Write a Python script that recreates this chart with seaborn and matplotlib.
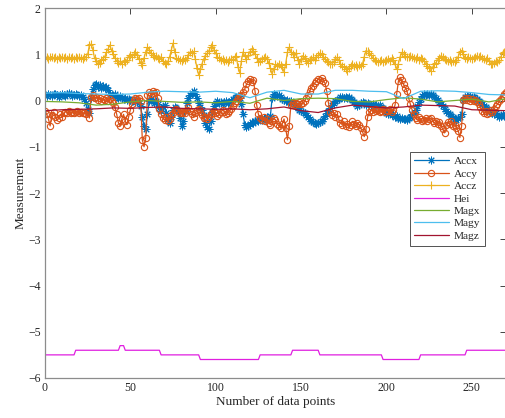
import numpy as np
import pandas as pd
import matplotlib
matplotlib.use("Agg")
import matplotlib.pyplot as plt
import seaborn as sns

# ---- accelerometer readings (one value per sample, samples 0..270) ----
accx = [
    0.12, 0.10, 0.14, 0.11, 0.09, 0.13, 0.15, 0.12, 0.08, 0.11,
    0.14, 0.12, 0.10, 0.13, 0.16, 0.13, 0.10, 0.12, 0.14, 0.11,
    0.09, 0.12, 0.08, 0.04, -0.05, -0.18, -0.27, 0.05, 0.25, 0.33,
    0.36, 0.30, 0.33, 0.28, 0.31, 0.26, 0.29, 0.22, 0.15, 0.12,
    0.10, 0.13, 0.08, 0.05, 0.09, 0.06, 0.03, 0.05, 0.02, 0.04,
    0.01, -0.02, 0.02, -0.03, -0.01, -0.05, -0.12, -0.35, -0.55, -0.62,
    -0.30, -0.02, 0.03, -0.01, -0.05, -0.02, -0.08, -0.16, -0.22, -0.14,
    -0.10, -0.26, -0.40, -0.48, -0.36, -0.20, -0.13, -0.17, -0.22, -0.38,
    -0.55, -0.44, -0.22, -0.06, 0.05, 0.12, 0.17, 0.20, 0.14, 0.06,
    -0.05, -0.15, -0.20, -0.32, -0.48, -0.58, -0.62, -0.45, -0.25, -0.12,
    -0.06, -0.02, -0.05, -0.03, -0.08, -0.04, -0.02, -0.06, -0.03, 0.00,
    0.03, 0.06, 0.08, 0.10, 0.05, -0.08, -0.30, -0.52, -0.58, -0.55,
    -0.50, -0.46, -0.48, -0.44, -0.42, -0.45, -0.40, -0.43, -0.38, -0.41,
    -0.36, -0.40, -0.34, 0.05, 0.15, 0.12, 0.09, 0.11, 0.07, 0.04,
    0.02, -0.01, 0.01, -0.03, -0.02, -0.05, -0.08, -0.12, -0.16, -0.20,
    -0.22, -0.24, -0.28, -0.32, -0.36, -0.40, -0.44, -0.46, -0.48, -0.50,
    -0.49, -0.47, -0.45, -0.40, -0.34, -0.28, -0.22, -0.16, -0.10, -0.05,
    -0.02, 0.02, 0.04, 0.07, 0.08, 0.06, 0.08, 0.05, 0.07, 0.04,
    0.02, -0.03, -0.08, -0.12, -0.10, -0.06, -0.03, -0.06, -0.09, -0.05,
    -0.08, -0.10, -0.07, -0.11, -0.09, -0.12, -0.10, -0.13, -0.16, -0.22,
    -0.26, -0.30, -0.28, -0.32, -0.30, -0.35, -0.33, -0.37, -0.40, -0.38,
    -0.41, -0.39, -0.42, -0.38, -0.35, -0.30, -0.26, -0.20, -0.12, -0.04,
    0.04, 0.10, 0.13, 0.11, 0.14, 0.12, 0.15, 0.11, 0.08, 0.05,
    0.02, -0.03, -0.08, -0.12, -0.18, -0.22, -0.26, -0.30, -0.33, -0.36,
    -0.40, -0.42, -0.38, -0.35, -0.30, 0.02, 0.08, 0.10, 0.07, 0.09,
    0.06, 0.08, 0.05, 0.03, 0.00, -0.04, -0.08, -0.12, -0.15, -0.18,
    -0.20, -0.24, -0.27, -0.30, -0.28, -0.32, -0.35, -0.33, -0.30, -0.34, -0.31,
]

accy = [
    -0.22, -0.30, -0.40, -0.55, -0.32, -0.25, -0.35, -0.42, -0.38, -0.30,
    -0.36, -0.28, -0.24, -0.27, -0.22, -0.26, -0.24, -0.28, -0.25, -0.22,
    -0.27, -0.24, -0.28, -0.26, -0.30, -0.25, -0.38, 0.08, 0.12, 0.05,
    0.08, 0.02, 0.06, 0.00, 0.04, 0.02, 0.06, -0.01, 0.03, 0.00,
    -0.05, -0.15, -0.30, -0.48, -0.55, -0.40, -0.30, -0.45, -0.52, -0.35,
    -0.20, -0.08, 0.02, 0.05, 0.03, 0.06, 0.00, -0.85, -1.00, -0.80,
    0.12, 0.18, 0.15, 0.20, 0.16, 0.18, 0.05, -0.18, -0.30, -0.38,
    -0.42, -0.36, -0.45, -0.40, -0.32, -0.28, -0.20, -0.18, -0.22, -0.26,
    -0.28, -0.24, -0.27, -0.20, -0.15, -0.22, -0.30, -0.35, -0.28, -0.20,
    -0.18, -0.25, -0.32, -0.38, -0.35, -0.40, -0.36, -0.30, -0.26, -0.22,
    -0.28, -0.34, -0.30, -0.25, -0.20, -0.24, -0.30, -0.28, -0.22, -0.18,
    -0.12, -0.06, 0.00, 0.05, 0.10, 0.12, 0.18, 0.25, 0.35, 0.42,
    0.46, 0.40, 0.44, 0.20, -0.10, -0.30, -0.38, -0.42, -0.36, -0.45,
    -0.40, -0.48, -0.52, -0.45, -0.38, -0.42, -0.50, -0.55, -0.60, -0.50,
    -0.40, -0.60, -0.85, -0.55, -0.10, -0.06, -0.10, -0.05, -0.08, -0.04,
    -0.08, -0.06, -0.02, 0.05, 0.12, 0.20, 0.28, 0.32, 0.38, 0.42,
    0.46, 0.44, 0.48, 0.42, 0.38, 0.20, -0.05, -0.25, -0.32, -0.28,
    -0.35, -0.30, -0.40, -0.48, -0.52, -0.45, -0.55, -0.50, -0.58, -0.52,
    -0.45, -0.50, -0.55, -0.48, -0.52, -0.60, -0.68, -0.78, -0.62, -0.35,
    -0.25, -0.20, -0.24, -0.18, -0.22, -0.20, -0.25, -0.22, -0.18, -0.24,
    -0.20, -0.22, -0.18, -0.24, -0.20, -0.10, 0.15, 0.42, 0.50, 0.44,
    0.35, 0.28, 0.20, 0.05, -0.08, -0.20, -0.30, -0.38, -0.42, -0.36,
    -0.40, -0.45, -0.42, -0.38, -0.44, -0.40, -0.38, -0.44, -0.48, -0.45,
    -0.50, -0.46, -0.55, -0.62, -0.70, -0.52, -0.46, -0.50, -0.44, -0.55,
    -0.52, -0.60, -0.65, -0.80, -0.55, 0.02, 0.06, 0.02, 0.05, -0.02,
    0.03, -0.02, 0.01, -0.04, -0.08, -0.15, -0.22, -0.28, -0.22, -0.30,
    -0.26, -0.20, -0.24, -0.18, -0.12, -0.08, -0.02, 0.04, 0.10, 0.15, 0.18,
]

accz = [
    0.92, 0.94, 0.90, 0.93, 0.95, 0.91, 0.93, 0.90, 0.94, 0.92,
    0.95, 0.91, 0.93, 0.90, 0.94, 0.92, 0.95, 0.90, 0.93, 0.91,
    0.94, 0.92, 0.90, 0.93, 0.95, 1.00, 1.20, 1.22, 1.10, 0.92,
    0.85, 0.78, 0.82, 0.88, 0.90, 0.95, 1.05, 1.12, 1.20, 1.08,
    1.00, 0.92, 0.85, 0.82, 0.85, 0.80, 0.86, 0.83, 0.88, 0.95,
    0.98, 0.95, 1.00, 1.04, 0.98, 0.90, 0.82, 0.76, 0.92, 1.05,
    1.15, 1.10, 1.02, 0.98, 0.95, 0.97, 0.92, 0.90, 0.93, 0.86,
    0.82, 0.78, 0.85, 0.95, 1.10, 1.24, 1.05, 0.92, 0.90, 0.88,
    0.86, 0.90, 0.87, 0.92, 0.98, 1.05, 1.02, 1.06, 0.90, 0.70,
    0.55, 0.68, 0.80, 0.90, 0.97, 1.02, 1.08, 1.15, 1.20, 1.10,
    1.02, 0.94, 0.92, 0.88, 0.90, 0.86, 0.88, 0.84, 0.87, 0.90,
    0.88, 0.95, 0.97, 0.72, 0.60, 0.85, 1.05, 0.96, 0.90, 0.98,
    1.05, 1.12, 1.08, 1.00, 0.92, 0.84, 0.86, 0.90, 0.92, 0.95,
    0.90, 0.82, 0.70, 0.57, 0.68, 0.78, 0.74, 0.80, 0.76, 0.72,
    0.62, 0.80, 1.05, 1.15, 1.05, 1.00, 0.95, 1.02, 0.88, 0.78,
    0.90, 0.97, 0.92, 0.85, 0.82, 0.88, 0.90, 0.93, 0.88, 0.95,
    0.98, 1.02, 1.00, 0.95, 0.90, 0.86, 0.84, 0.80, 0.78, 0.84,
    0.90, 0.93, 0.88, 0.80, 0.75, 0.72, 0.68, 0.64, 0.70, 0.75,
    0.78, 0.74, 0.76, 0.73, 0.77, 0.75, 0.80, 0.95, 1.08, 1.06,
    1.02, 0.98, 0.92, 0.88, 0.86, 0.83, 0.85, 0.88, 0.84, 0.86,
    0.88, 0.90, 0.86, 0.92, 0.88, 0.78, 0.68, 0.80, 0.95, 1.04,
    1.00, 0.96, 0.93, 0.95, 0.97, 0.94, 0.92, 0.90, 0.93, 0.88,
    0.91, 0.89, 0.85, 0.80, 0.75, 0.70, 0.64, 0.72, 0.78, 0.82,
    0.88, 0.92, 0.97, 0.94, 0.90, 0.87, 0.85, 0.88, 0.84, 0.86,
    0.83, 0.88, 0.95, 1.05, 1.08, 1.00, 0.92, 0.90, 0.93, 0.91,
    0.89, 0.92, 0.95, 0.97, 0.94, 0.96, 0.92, 0.90, 0.88, 0.92,
    0.86, 0.80, 0.78, 0.82, 0.85, 0.83, 0.88, 0.95, 1.02, 1.05, 1.06,
]

# ---- height: piecewise-constant levels with the sample index where each starts ----
hei_levels = [-5.5, -5.4, -5.3, -5.4, -5.5, -5.6, -5.5, -5.4, -5.5, -5.6, -5.5, -5.4]
hei_starts = [0, 18, 44, 47, 68, 91, 126, 145, 161, 198, 220, 247]

# ---- magnetometer readings, sampled every 10 points ----
mag_idx = [0, 10, 20, 30, 40, 50, 60, 70, 80, 90, 100, 110, 120, 130,
           140, 150, 160, 170, 180, 190, 200, 210, 220, 230, 240, 250, 260, 270]
magx = [-0.02, -0.03, -0.05, -0.10, -0.08, -0.03, 0.00, -0.02, -0.04, -0.03,
        -0.05, -0.02, -0.06, 0.05, 0.00, 0.04, 0.05, 0.04, -0.02, -0.03,
        0.02, 0.06, 0.03, -0.03, 0.00, 0.03, -0.03, 0.04]
magy = [0.16, 0.17, 0.15, 0.14, 0.13, 0.14, 0.18, 0.20, 0.19, 0.18,
        0.20, 0.17, 0.06, 0.18, 0.22, 0.14, 0.14, 0.22, 0.22, 0.20,
        0.19, 0.04, 0.20, 0.21, 0.20, 0.17, 0.13, 0.12]
magz = [-0.22, -0.20, -0.19, -0.18, -0.16, -0.17, -0.15, -0.14, -0.17, -0.18,
        -0.19, -0.18, -0.20, -0.18, -0.14, -0.22, -0.26, -0.16, -0.10, -0.13,
        -0.16, -0.14, -0.10, -0.11, -0.12, -0.20, -0.21, -0.22]

n_samples = len(accx)
idx = np.arange(n_samples)
hei = np.repeat(hei_levels, np.diff(hei_starts + [n_samples]))

sns.set_style("white")
plt.rcParams["font.family"] = ["Liberation Serif", "DejaVu Serif"]

fig = plt.figure(figsize=(5.06, 4.18), dpi=100)
ax = fig.add_axes([45 / 506, 40 / 418, 461 / 506, 370 / 418])

c_accx, c_accy, c_accz = "#0072BD", "#D95319", "#EDB120"
c_hei, c_magx, c_magy, c_magz = "#E01FE0", "#77AC30", "#4DBEEE", "#A2142F"

# asterisk marker (eight spokes), like a plus and a cross overlaid
asterisk = (8, 2, 0)

lw = 0.9
sns.lineplot(x=idx, y=accx, ax=ax, color=c_accx, lw=lw, marker=asterisk,
             markersize=5.5, mew=0.7, mec=c_accx, label="Accx")
sns.lineplot(x=idx, y=accy, ax=ax, color=c_accy, lw=lw, marker="o",
             markersize=4.5, mfc="none", mew=0.8, mec=c_accy, label="Accy")
sns.lineplot(x=idx, y=accz, ax=ax, color=c_accz, lw=lw, marker="+",
             markersize=6, mew=0.8, mec=c_accz, label="Accz")
sns.lineplot(x=idx, y=hei, ax=ax, color=c_hei, lw=lw, label="Hei")
sns.lineplot(x=mag_idx, y=magx, ax=ax, color=c_magx, lw=lw, label="Magx")
sns.lineplot(x=mag_idx, y=magy, ax=ax, color=c_magy, lw=lw, label="Magy")
sns.lineplot(x=mag_idx, y=magz, ax=ax, color=c_magz, lw=lw, label="Magz")

ax.set_xlim(0, 270)
ax.set_ylim(-6, 2)
ax.set_xticks([0, 50, 100, 150, 200, 250])
ax.set_yticks(np.arange(-6, 3, 1))
ax.tick_params(direction="in", length=4, width=0.6, color="#262626",
               labelsize=8.5, labelcolor="#262626", top=True, right=True, pad=3)
for sp in ax.spines.values():
    sp.set_visible(True)
    sp.set_color("#8c8c8c")
    sp.set_linewidth(0.9)

ax.set_xlabel("Number of data points", fontsize=9.5, color="#262626", labelpad=1)
ax.set_ylabel("Measurement", fontsize=9.5, color="#262626", labelpad=1)

leg = ax.legend(loc="upper right", bbox_to_anchor=(0.955, 0.612), fontsize=8.2,
                frameon=True, fancybox=False, edgecolor="#262626",
                handlelength=3.0, handletextpad=0.5, labelspacing=0.22,
                borderpad=0.4, borderaxespad=0, numpoints=1)
leg.get_frame().set_linewidth(0.7)

fig.savefig("out.png", dpi=100)
